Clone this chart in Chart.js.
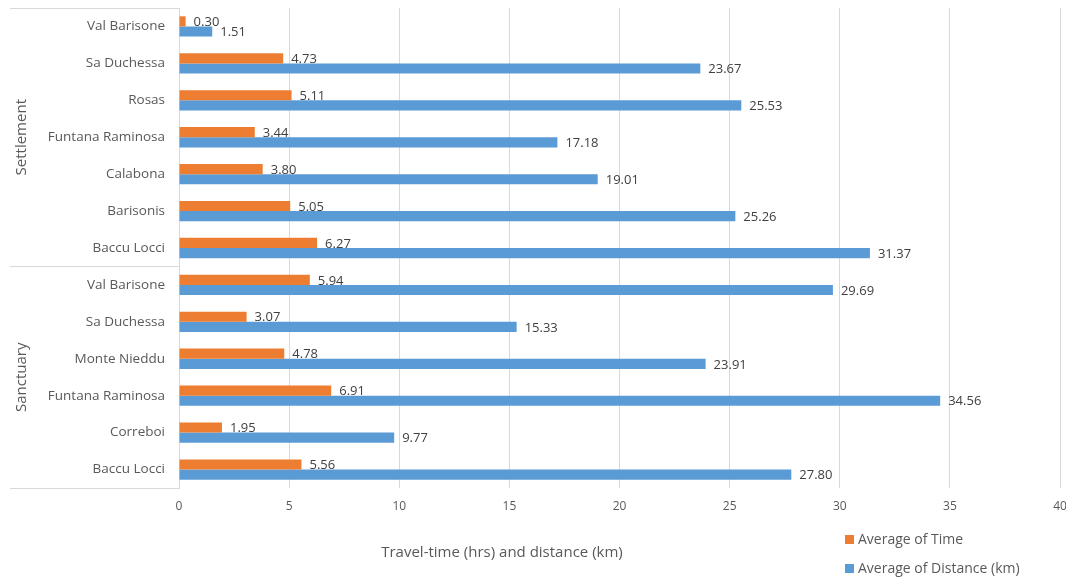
<!DOCTYPE html>
<html>
<head>
<meta charset="utf-8">
<script src="https://cdn.jsdelivr.net/npm/chart.js@4.4.1/dist/chart.umd.min.js"></script>
<style>
    body { margin: 0; background: #fff; }
    #wrap { width: 1066px; height: 580px; }
</style>
</head>
<body>
<div id="wrap"><canvas id="travelChart" width="1066" height="580"></canvas></div>
<script>
/**
 * Travel-time and distance by site, grouped by site type
 */

const sites = [
    'Val Barisone', 'Sa Duchessa', 'Rosas', 'Funtana Raminosa', 'Calabona', 'Barisonis', 'Baccu Locci',
    'Val Barisone', 'Sa Duchessa', 'Monte Nieddu', 'Funtana Raminosa', 'Correboi', 'Baccu Locci'
];
const groups = ['Settlement', 'Sanctuary'];
const groupSizes = [7, 6];

const avgTime = [0.30, 4.73, 5.11, 3.44, 3.80, 5.05, 6.27, 5.94, 3.07, 4.78, 6.91, 1.95, 5.56];
const avgDistance = [1.51, 23.67, 25.53, 17.18, 19.01, 25.26, 31.37, 29.69, 15.33, 23.91, 34.56, 9.77, 27.80];

const xTicks = [0, 5, 10, 15, 20, 25, 30, 35, 40];

const seriesNames = ['Average of Time', 'Average of Distance (km)'];
const seriesColors = ['#ED7D31', '#5B9BD5'];

const FONT = "'Open Sans', 'Liberation Sans', sans-serif";
const LINE_COLOR = '#d9d9d9';

// Value labels at the end of each bar
const valueLabels = {
    id: 'valueLabels',
    afterDatasetsDraw(chart) {
        const ctx = chart.ctx;
        ctx.save();
        ctx.font = '13px ' + FONT;
        ctx.fillStyle = '#404040';
        ctx.textAlign = 'left';
        ctx.textBaseline = 'middle';
        chart.data.datasets.forEach((ds, i) => {
            chart.getDatasetMeta(i).data.forEach((bar, j) => {
                ctx.fillText(ds.data[j].toFixed(2), bar.x + 8, bar.y + 1);
            });
        });
        ctx.restore();
    }
};

// Second level of the category axis (Settlement / Sanctuary)
const groupAxis = {
    id: 'groupAxis',
    afterDraw(chart) {
        const ctx = chart.ctx;
        const y = chart.scales.y;
        const area = chart.chartArea;
        const band = (area.bottom - area.top) / sites.length;
        ctx.save();
        ctx.strokeStyle = LINE_COLOR;
        ctx.lineWidth = 1;

        let start = 0;
        const edges = [area.top];
        groups.forEach((g, i) => {
            const end = start + groupSizes[i];
            edges.push(area.top + band * end);
            const mid = area.top + band * (start + end) / 2;
            ctx.save();
            ctx.translate(22, mid);
            ctx.rotate(-Math.PI / 2);
            ctx.font = '15px ' + FONT;
            ctx.fillStyle = '#595959';
            ctx.textAlign = 'center';
            ctx.textBaseline = 'middle';
            ctx.fillText(g, 0, 0);
            ctx.restore();
            start = end;
        });

        edges.forEach(e => {
            const yy = Math.round(e) + 0.5;
            ctx.beginPath();
            ctx.moveTo(10, yy);
            ctx.lineTo(y.right, yy);
            ctx.stroke();
        });
        ctx.restore();
    }
};

// Axis title and legend in the lower part of the canvas
const bottomText = {
    id: 'bottomText',
    afterDraw(chart) {
        const ctx = chart.ctx;
        ctx.save();
        ctx.font = '15px ' + FONT;
        ctx.fillStyle = '#595959';
        ctx.textAlign = 'center';
        ctx.textBaseline = 'middle';
        ctx.fillText('Travel-time (hrs) and distance (km)', 502, 553);

        ctx.font = '14px ' + FONT;
        ctx.textAlign = 'left';
        seriesNames.forEach((name, i) => {
            const ly = 540 + i * 29;
            ctx.fillStyle = seriesColors[i];
            ctx.fillRect(845, ly - 5, 9, 9);
            ctx.fillStyle = '#595959';
            ctx.fillText(name, 858, ly);
        });
        ctx.restore();
    }
};

function renderChart() {
    const ctx = document.getElementById('travelChart');

    new Chart(ctx, {
        type: 'bar',
        data: {
            labels: sites,
            datasets: [
                {
                    label: seriesNames[0],
                    data: avgTime,
                    backgroundColor: seriesColors[0],
                    borderWidth: 0
                },
                {
                    label: seriesNames[1],
                    data: avgDistance,
                    backgroundColor: seriesColors[1],
                    borderWidth: 0
                }
            ]
        },
        options: {
            indexAxis: 'y',
            responsive: false,
            animation: false,
            datasets: {
                bar: {
                    categoryPercentage: 0.55,
                    barPercentage: 1.0
                }
            },
            layout: {
                padding: { top: 8, left: 10, right: 6, bottom: 62 }
            },
            plugins: {
                legend: { display: false },
                tooltip: { enabled: false }
            },
            scales: {
                x: {
                    min: 0,
                    max: 40,
                    afterBuildTicks: (scale) => {
                        scale.ticks = xTicks.map(v => ({ value: v }));
                    },
                    afterFit: (scale) => {
                        scale.height = 30;
                        scale.paddingLeft = 0;
                        scale.paddingRight = 0;
                    },
                    grid: {
                        color: LINE_COLOR,
                        drawTicks: false
                    },
                    border: { display: false },
                    ticks: {
                        color: '#595959',
                        font: { family: FONT, size: 12 },
                        padding: 11
                    }
                },
                y: {
                    afterFit: (scale) => {
                        scale.width = 169;
                        scale.paddingTop = 0;
                        scale.paddingBottom = 0;
                    },
                    grid: {
                        display: false,
                        drawTicks: false
                    },
                    border: { display: true, color: LINE_COLOR },
                    ticks: {
                        color: '#595959',
                        font: { family: FONT, size: 13.5 },
                        padding: 14,
                        autoSkip: false
                    }
                }
            }
        },
        plugins: [valueLabels, groupAxis, bottomText]
    });
}

document.addEventListener('DOMContentLoaded', () => {
    renderChart();
});
</script>
</body>
</html>
